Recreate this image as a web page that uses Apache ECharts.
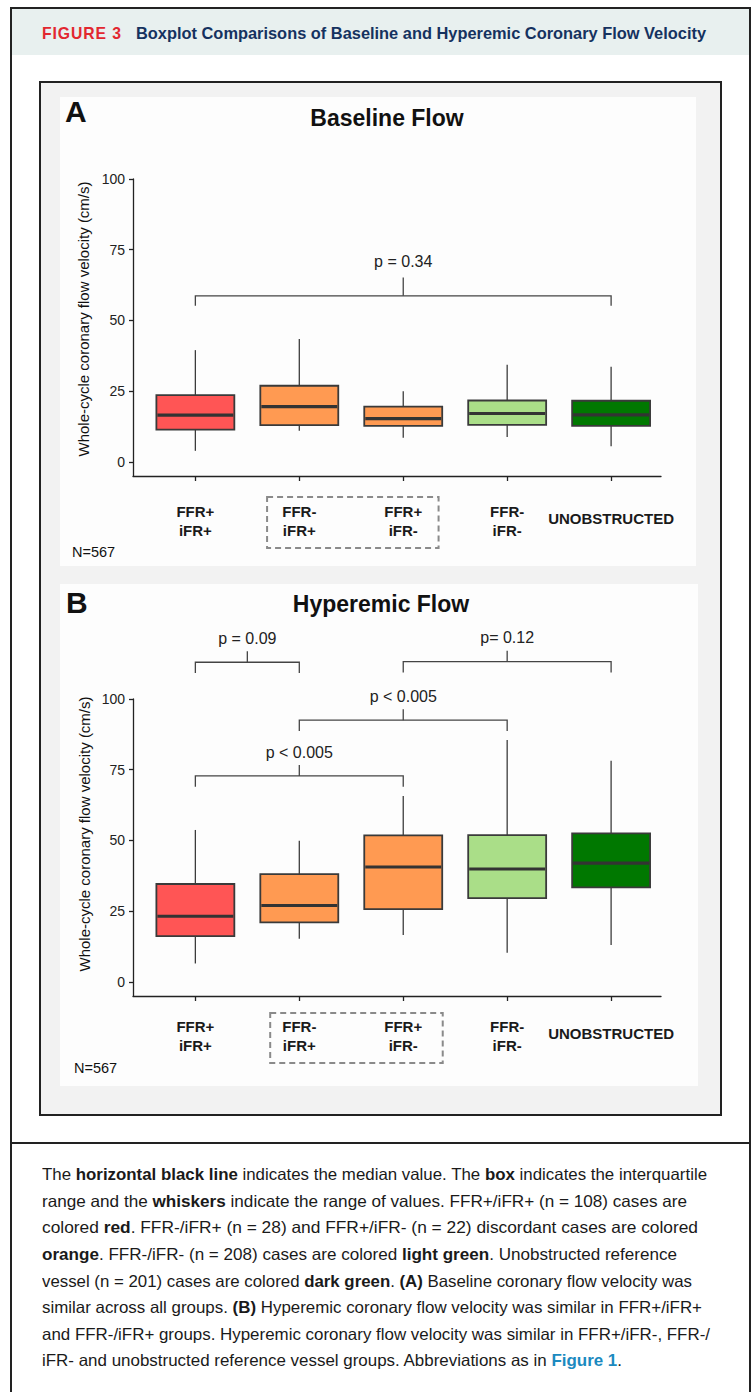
<!DOCTYPE html>
<html>
<head>
<meta charset="utf-8">
<script src="https://cdn.jsdelivr.net/npm/echarts@6/dist/echarts.min.js"></script>
<style>
html,body{margin:0;padding:0;background:#ffffff;width:756px;height:1392px;overflow:hidden}
#page{position:relative;width:756px;height:1392px;overflow:hidden}
.abs{position:absolute;box-sizing:border-box}
#outer{left:10px;top:7px;width:741px;height:1420px;border:2px solid #222}
#band{left:12px;top:9px;width:737px;height:46px;background:#e8f0ef}
#frame{left:39px;top:81px;width:683px;height:1035px;border:2.5px solid #222;background:#f2f2f2}
#panelA{left:60px;top:97px;width:636px;height:469px;background:#fdfdfd}
#panelB{left:60px;top:584px;width:638px;height:502px;background:#fdfdfd}
#sep{left:10px;top:1142px;width:741px;height:2px;background:#222}
#chart{position:absolute;left:0;top:0;width:756px;height:1392px}
.fitline{position:absolute;white-space:nowrap;transform-origin:0 50%;display:inline-block}
.hdr{font-family:"Liberation Sans Narrow","Liberation Sans",Arial,sans-serif;font-weight:bold;font-size:17px;line-height:20px}
.cap{font-family:"Liberation Sans Narrow","Liberation Sans",Arial,sans-serif;font-size:16.5px;line-height:20px;color:#1a1a1a}
.cap b{font-weight:bold}
</style>
</head>
<body>
<div id="page">
  <div id="outer" class="abs"></div>
  <div id="band" class="abs"></div>
  <div id="frame" class="abs"></div>
  <div id="panelA" class="abs"></div>
  <div id="panelB" class="abs"></div>
  <div id="sep" class="abs"></div>
  <div id="chart"></div>

  <span class="fitline hdr" data-w="80" style="left:42px;top:24px;color:#e2272f;letter-spacing:1px">FIGURE 3</span>
  <span class="fitline hdr" data-w="570" style="left:136px;top:24px;color:#15325f">Boxplot Comparisons of Baseline and Hyperemic Coronary Flow Velocity</span>

  <span class="fitline cap" data-w="665" style="left:42px;top:1164px">The <b>horizontal black line</b> indicates the median value. The <b>box</b> indicates the interquartile</span>
  <span class="fitline cap" data-w="645" style="left:42px;top:1191px">range and the <b>whiskers</b> indicate the range of values. FFR+/iFR+ (n = 108) cases are</span>
  <span class="fitline cap" data-w="656" style="left:42px;top:1217px">colored <b>red</b>. FFR-/iFR+ (n = 28) and FFR+/iFR- (n = 22) discordant cases are colored</span>
  <span class="fitline cap" data-w="635" style="left:42px;top:1244px"><b>orange</b>. FFR-/iFR- (n = 208) cases are colored <b>light green</b>. Unobstructed reference</span>
  <span class="fitline cap" data-w="650" style="left:42px;top:1271px">vessel (n = 201) cases are colored <b>dark green</b>. <b>(A)</b> Baseline coronary flow velocity was</span>
  <span class="fitline cap" data-w="660" style="left:42px;top:1297px">similar across all groups. <b>(B)</b> Hyperemic coronary flow velocity was similar in FFR+/iFR+</span>
  <span class="fitline cap" data-w="668" style="left:42px;top:1324px">and FFR-/iFR+ groups. Hyperemic coronary flow velocity was similar in FFR+/iFR-, FFR-/</span>
  <span class="fitline cap" data-w="580" style="left:42px;top:1350px">iFR- and unobstructed reference vessel groups. Abbreviations as in <b style="color:#1b8ac0">Figure 1</b>.</span>
</div>
<script>
// ---------------- data ----------------
const categories = ['FFR+\niFR+', 'FFR-\niFR+', 'FFR+\niFR-', 'FFR-\niFR-', 'UNOBSTRUCTED'];
const yTicks = [0, 25, 50, 75, 100];

// Panel A: baseline flow (cm/s)
const baselineMin    = [3.9, 11.0, 8.5, 8.8, 5.5];
const baselineQ1     = [11.4, 13.0, 12.7, 13.1, 12.7];
const baselineMedian = [16.5, 19.5, 15.3, 17.1, 16.6];
const baselineQ3     = [23.6, 26.9, 19.5, 21.7, 21.6];
const baselineMax    = [39.5, 43.4, 25.0, 34.3, 33.6];

// Panel B: hyperemic flow (cm/s)
const hyperemicMin    = [6.5, 15.2, 16.6, 10.3, 13.0];
const hyperemicQ1     = [16.2, 21.0, 25.7, 29.6, 33.4];
const hyperemicMedian = [23.2, 27.0, 40.6, 39.9, 42.0];
const hyperemicQ3     = [34.6, 38.1, 51.8, 51.9, 52.5];
const hyperemicMax    = [53.7, 49.9, 65.7, 85.5, 78.2];

// significance tests (group numbers are 1-based categories)
const baselineTestGroups = [[1, 5]];
const baselineTestLabels = ['p = 0.34'];
const hyperemicTestGroups = [[1, 2], [3, 5], [1, 3], [2, 4]];
const hyperemicTestLabels = ['p = 0.09', 'p= 0.12', 'p < 0.005', 'p < 0.005'];

const discordantGroups = [2, 3];

// ---------------- styles / layout ----------------
const BOX_COLORS = ['#ff5555', '#ff9a52', '#ff9a52', '#aade88', '#007800'];
const FONT = '"Liberation Sans", Arial, Helvetica, sans-serif';
const BOX_FRACTION = 0.75;
// bracket geometry in axis units: bar level, drop, rise, label offset
const baselineBracketLevels = [58.7];
const hyperemicBracketLevels = [113.0, 113.2, 72.8, 92.5];
const bracketStyleA = {drop: 3.5, rise: 6.5, text: 12.3};
const bracketStyleB = {drop: 3.8, rise: 3.9, text: 8.4};

function boxData(mn, q1, md, q3, mx) {
  return categories.map((c, i) => [i + 1, mn[i], q1[i], md[i], q3[i], mx[i]]);
}

function renderBox(params, api) {
  const x = api.value(0);
  const lo = api.coord([x, api.value(1)]);
  const q1 = api.coord([x, api.value(2)]);
  const md = api.coord([x, api.value(3)]);
  const q3 = api.coord([x, api.value(4)]);
  const hi = api.coord([x, api.value(5)]);
  const half = api.size([1, 0])[0] * BOX_FRACTION / 2;
  const fill = BOX_COLORS[params.dataIndex];
  return {
    type: 'group',
    children: [
      {type: 'line', shape: {x1: lo[0], y1: lo[1], x2: q1[0], y2: q1[1]}, style: {stroke: '#3c3c3c', lineWidth: 1.3}},
      {type: 'line', shape: {x1: q3[0], y1: q3[1], x2: hi[0], y2: hi[1]}, style: {stroke: '#3c3c3c', lineWidth: 1.3}},
      {type: 'rect', shape: {x: q3[0] - half, y: q3[1], width: half * 2, height: q1[1] - q3[1]},
        style: {fill: fill, stroke: '#3a3a3a', lineWidth: 1.8}},
      {type: 'line', shape: {x1: md[0] - half + 1, y1: md[1], x2: md[0] + half - 1, y2: md[1]},
        style: {stroke: '#333333', lineWidth: 3.2}}
    ]
  };
}

function makeBracketRender(labels, bs) {
  return function (params, api) {
    const x1 = api.value(0), x2 = api.value(1), lvl = api.value(2);
    const xm = (x1 + x2) / 2;
    const a = api.coord([x1, lvl - bs.drop]);
    const b = api.coord([x1, lvl]);
    const c = api.coord([x2, lvl]);
    const d = api.coord([x2, lvl - bs.drop]);
    const m0 = api.coord([xm, lvl]);
    const m1 = api.coord([xm, lvl + bs.rise]);
    const t = api.coord([xm, lvl + bs.text]);
    const ls = {stroke: '#444444', lineWidth: 1.3, fill: null};
    return {
      type: 'group',
      children: [
        {type: 'polyline', shape: {points: [a, b, c, d]}, style: ls},
        {type: 'line', shape: {x1: m0[0], y1: m0[1], x2: m1[0], y2: m1[1]}, style: ls},
        {type: 'text', x: t[0], y: t[1],
          style: {text: labels[params.dataIndex], fill: '#222', fontSize: 16, fontFamily: FONT,
            align: 'center', verticalAlign: 'middle'}}
      ]
    };
  };
}

function makeDashRender(pad) {
  return function (params, api) {
    const p1 = api.coord([api.value(0) - pad.left, 0]);
    const p2 = api.coord([api.value(1) + pad.right, 0]);
    const base = api.coord([api.value(0), -5])[1];
    return {
      type: 'rect',
      shape: {x: p1[0], y: base + pad.top, width: p2[0] - p1[0], height: pad.height},
      style: {fill: null, stroke: '#8a8a8a', lineWidth: 2, lineDash: [6, 4]}
    };
  };
}

function xAxisFor(gridIndex, margin) {
  const pos = categories.map((c, i) => i + 1);
  return {
    gridIndex: gridIndex, type: 'value', min: 0.4, max: 5.48,
    axisLine: {show: true, onZero: false, lineStyle: {color: '#222', width: 1.3}},
    axisTick: {show: true, customValues: pos, length: 5, lineStyle: {color: '#222', width: 1.3}},
    axisLabel: {
      customValues: pos, margin: margin, color: '#1a1a1a', fontWeight: 'bold', fontSize: 15,
      fontFamily: FONT, lineHeight: 19,
      formatter: function (v) {
        const s = categories[Math.round(v) - 1];
        return s.indexOf('\n') < 0 ? '{u|' + s + '}' : s;
      },
      rich: {u: {fontWeight: 'bold', fontSize: 15, fontFamily: FONT, color: '#1a1a1a', lineHeight: 33}}
    },
    splitLine: {show: false}
  };
}

function yAxisFor(gridIndex) {
  return {
    gridIndex: gridIndex, type: 'value', min: -5, max: 100,
    axisLine: {show: true, onZero: false, lineStyle: {color: '#222', width: 1.3}},
    axisTick: {show: true, customValues: yTicks, length: 4, lineStyle: {color: '#222', width: 1.3}},
    axisLabel: {customValues: yTicks, margin: 8, color: '#222', fontSize: 14, fontFamily: FONT},
    splitLine: {show: false}
  };
}

function txt(text, x, y, size, weight, align, rot) {
  return {
    type: 'text', x: x, y: y, rotation: rot || 0,
    style: {text: text, fontSize: size, fontWeight: weight, fontFamily: FONT, fill: '#111',
      align: align, verticalAlign: 'middle'}
  };
}

const chart = echarts.init(document.getElementById('chart'), null, {renderer: 'svg'});
chart.setOption({
  animation: false,
  backgroundColor: 'transparent',
  grid: [
    {left: 133, top: 179, width: 528, height: 297},
    {left: 133, top: 699, width: 528, height: 297}
  ],
  xAxis: [xAxisFor(0, 26), xAxisFor(1, 21)],
  yAxis: [yAxisFor(0), yAxisFor(1)],
  graphic: [
    txt('A', 65, 111, 30, 'bold', 'left'),
    txt('Baseline Flow', 387, 118, 23, 'bold', 'center'),
    txt('Whole-cycle coronary flow velocity (cm/s)', 83, 319, 15, 'normal', 'center', Math.PI / 2),
    txt('N=567', 72, 552, 14.5, 'normal', 'left'),
    txt('B', 66, 602, 30, 'bold', 'left'),
    txt('Hyperemic Flow', 381, 604, 23, 'bold', 'center'),
    txt('Whole-cycle coronary flow velocity (cm/s)', 84, 834, 15, 'normal', 'center', Math.PI / 2),
    txt('N=567', 74, 1068, 14.5, 'normal', 'left')
  ],
  series: [
    {type: 'custom', name: 'Baseline', xAxisIndex: 0, yAxisIndex: 0, clip: false,
      encode: {x: 0, y: [1, 2, 3, 4, 5]},
      data: boxData(baselineMin, baselineQ1, baselineMedian, baselineQ3, baselineMax),
      renderItem: renderBox},
    {type: 'custom', name: 'Hyperemic', xAxisIndex: 1, yAxisIndex: 1, clip: false,
      encode: {x: 0, y: [1, 2, 3, 4, 5]},
      data: boxData(hyperemicMin, hyperemicQ1, hyperemicMedian, hyperemicQ3, hyperemicMax),
      renderItem: renderBox},
    {type: 'custom', name: 'testsA', xAxisIndex: 0, yAxisIndex: 0, clip: false, silent: true,
      data: baselineTestGroups.map((g, i) => [g[0], g[1], baselineBracketLevels[i]]),
      renderItem: makeBracketRender(baselineTestLabels, bracketStyleA)},
    {type: 'custom', name: 'testsB', xAxisIndex: 1, yAxisIndex: 1, clip: false, silent: true,
      data: hyperemicTestGroups.map((g, i) => [g[0], g[1], hyperemicBracketLevels[i]]),
      renderItem: makeBracketRender(hyperemicTestLabels, bracketStyleB)},
    {type: 'custom', name: 'discordA', xAxisIndex: 0, yAxisIndex: 0, clip: false, silent: true,
      data: [discordantGroups],
      renderItem: makeDashRender({left: 0.31, right: 0.34, top: 21, height: 51})},
    {type: 'custom', name: 'discordB', xAxisIndex: 1, yAxisIndex: 1, clip: false, silent: true,
      data: [discordantGroups],
      renderItem: makeDashRender({left: 0.28, right: 0.38, top: 17, height: 50})}
  ]
});

document.querySelectorAll('.fitline').forEach(function (el) {
  const w = el.getBoundingClientRect().width;
  const target = parseFloat(el.getAttribute('data-w'));
  el.style.transform = 'scaleX(' + (target / w).toFixed(4) + ')';
});
</script>
</body>
</html>
